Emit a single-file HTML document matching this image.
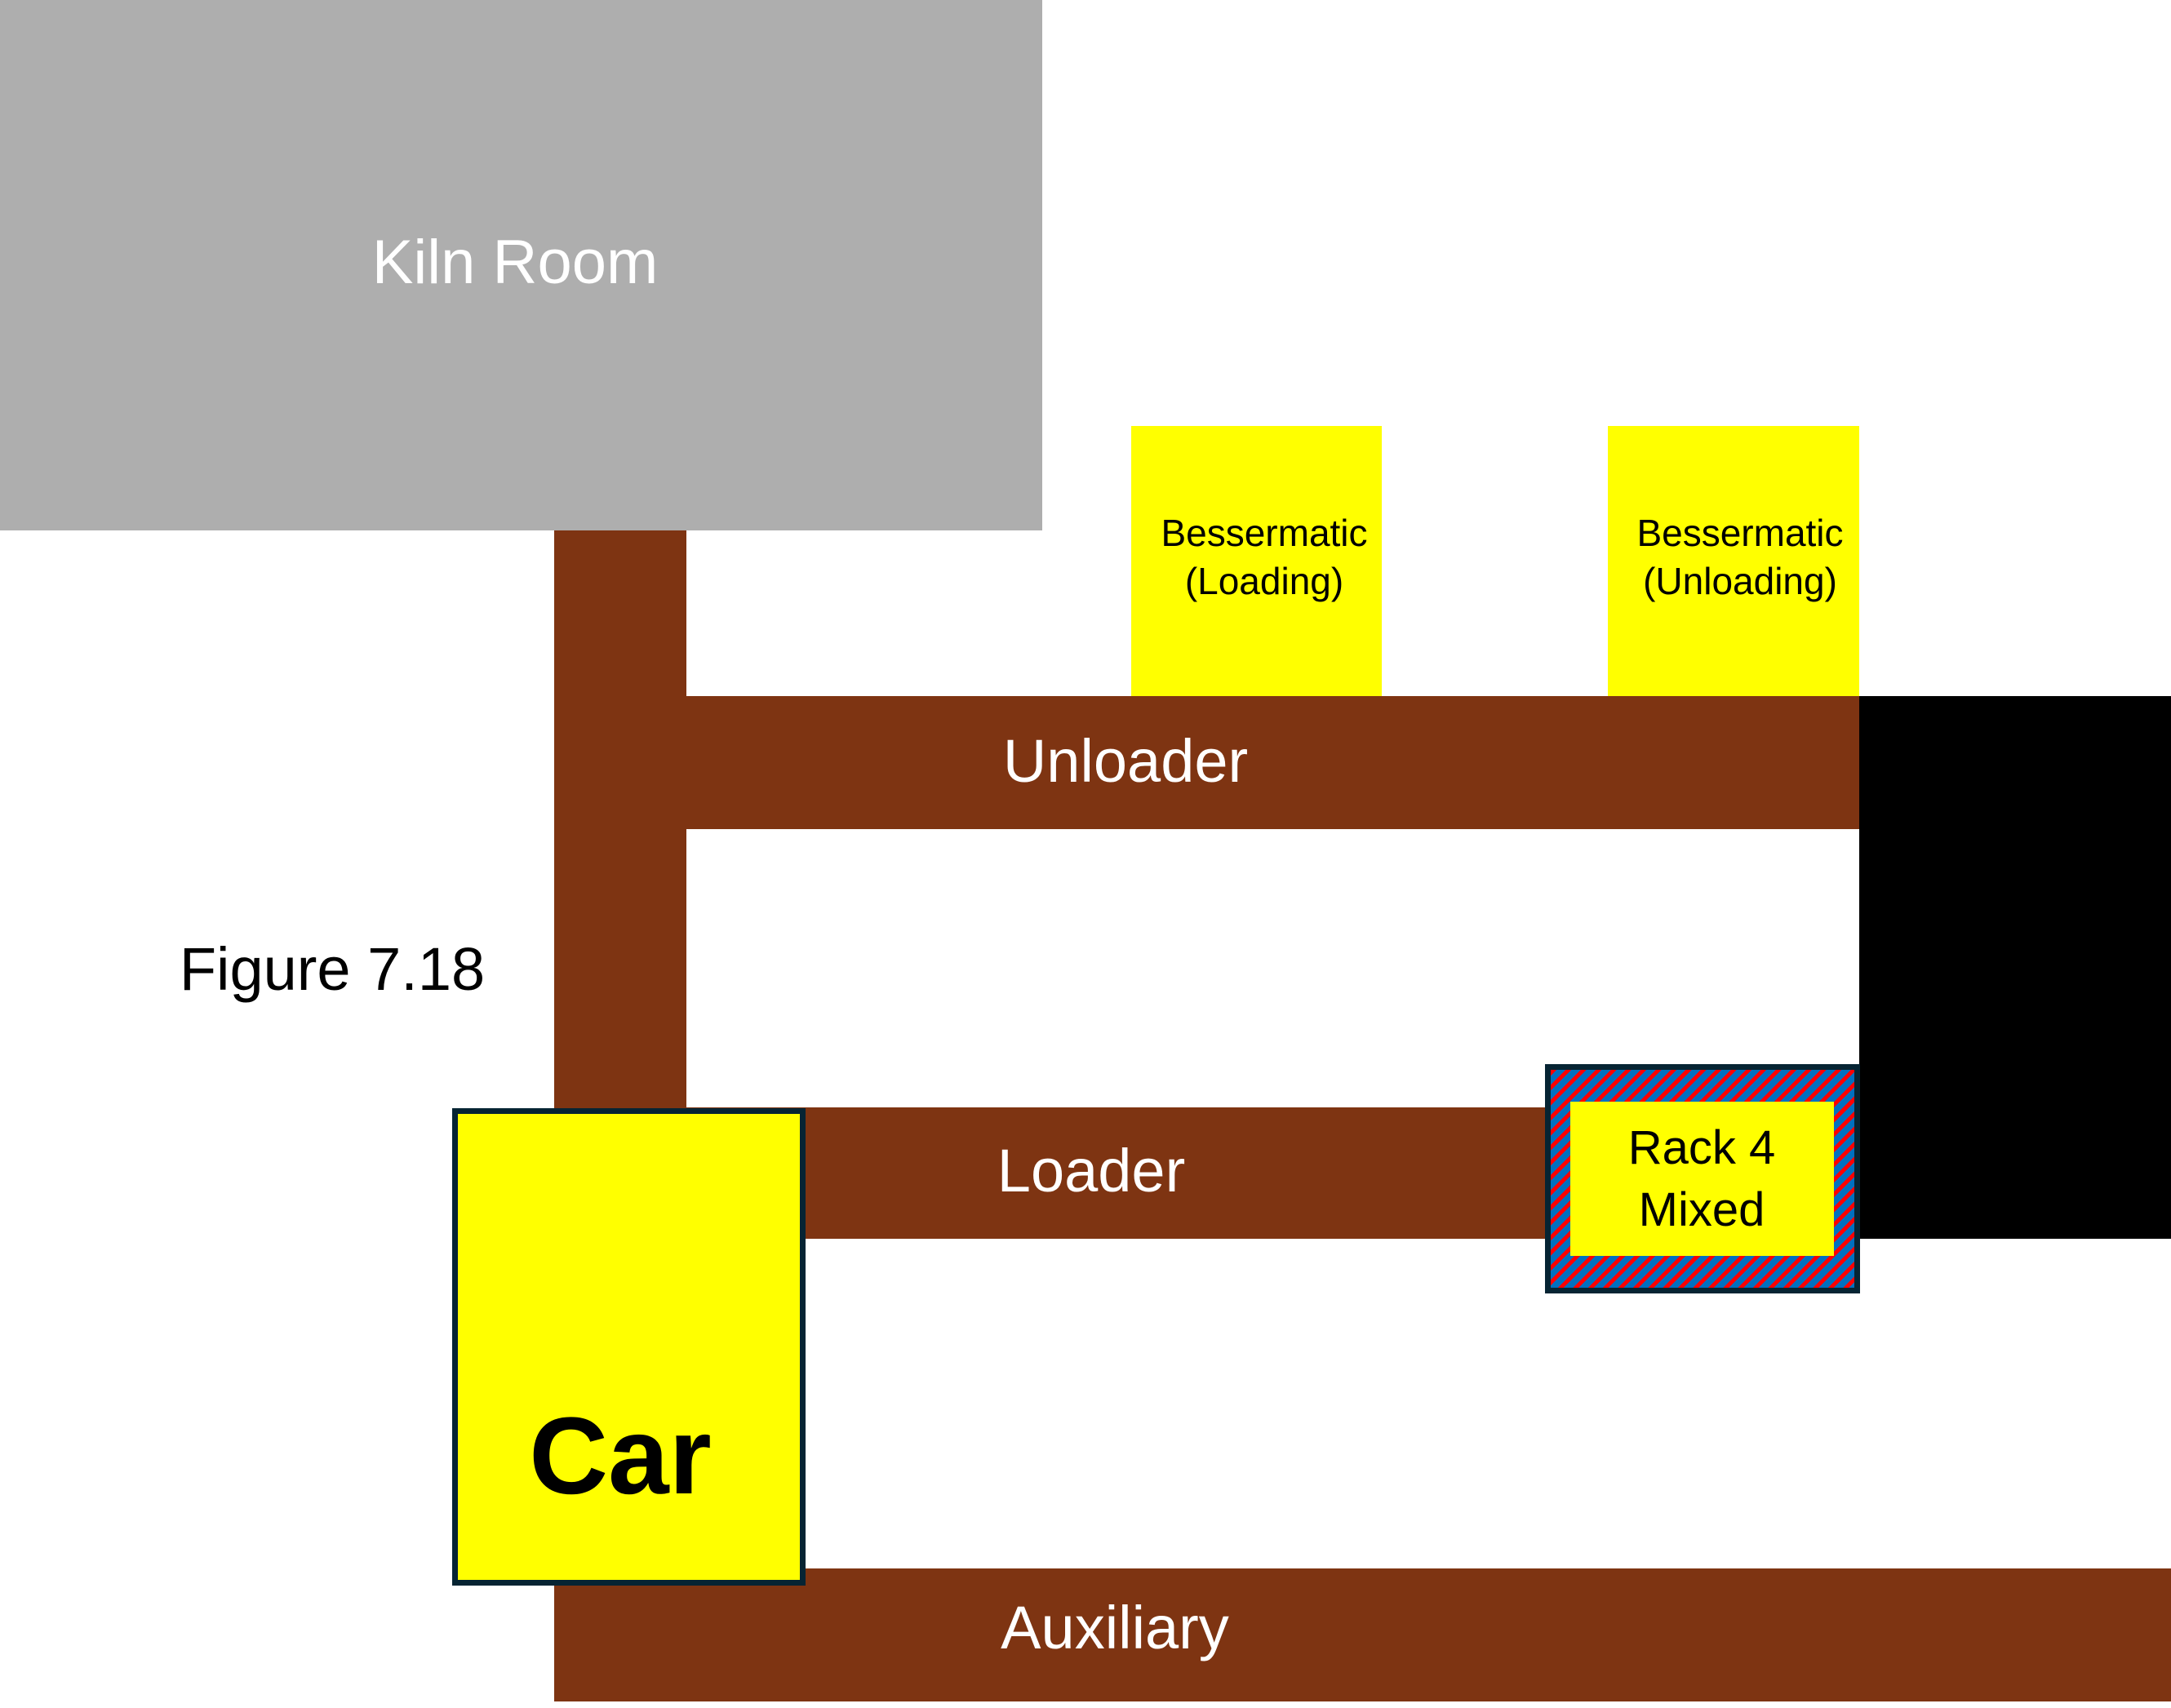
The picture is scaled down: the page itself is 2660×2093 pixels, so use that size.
<!DOCTYPE html>
<html><head><meta charset="utf-8"><style>
html,body{margin:0;padding:0;background:#fff;}
body{width:2660px;height:2093px;position:relative;overflow:hidden;font-family:"Liberation Sans",sans-serif;}
.a{position:absolute;box-sizing:border-box;}
.br{background:#7E3412;}
.t{position:absolute;white-space:nowrap;transform:translate(-50%,-50%);line-height:1;}
</style></head><body>
<div class="a" style="left:0;top:0;width:1277px;height:650px;background:#AEAEAE;"></div>
<div class="t" style="left:631px;top:322px;font-size:76px;color:#fff;">Kiln Room</div>

<div class="a br" style="left:679px;top:650px;width:162px;height:1435px;"></div>
<div class="a br" style="left:841px;top:853px;width:1437px;height:163px;"></div>
<div class="a br" style="left:841px;top:1357px;width:1060px;height:161px;"></div>
<div class="a br" style="left:679px;top:1922px;width:1981px;height:163px;"></div>
<div class="a" style="left:2278px;top:853px;width:382px;height:665px;background:#000;"></div>

<div class="a" style="left:1386px;top:522px;width:307px;height:331px;background:#FFFF00;"></div>
<div class="t" style="left:1549px;top:653px;font-size:46px;">Bessermatic</div>
<div class="t" style="left:1549px;top:712px;font-size:46px;">(Loading)</div>
<div class="a" style="left:1970px;top:522px;width:308px;height:331px;background:#FFFF00;"></div>
<div class="t" style="left:2132px;top:653px;font-size:46px;">Bessermatic</div>
<div class="t" style="left:2132px;top:712px;font-size:46px;">(Unloading)</div>

<div class="t" style="left:1379px;top:933px;font-size:74px;color:#fff;">Unloader</div>
<div class="t" style="left:1337px;top:1435px;font-size:74px;color:#fff;">Loader</div>
<div class="t" style="left:1366px;top:1995px;font-size:74px;color:#fff;">Auxiliary</div>
<div class="t" style="left:407px;top:1188px;font-size:74px;color:#000;">Figure 7.18</div>

<div class="a" style="left:554px;top:1358px;width:433px;height:585px;background:#FFFF00;border:7px solid #062433;"></div>
<div class="t" style="left:760px;top:1785px;font-size:134px;font-weight:bold;">Car</div>

<div class="a" style="left:1893px;top:1304px;width:386px;height:281px;border:7px solid #062433;background:repeating-linear-gradient(135deg,#FF0000 0 5px,#0070C0 5px 13px);"></div>
<div class="a" style="left:1924px;top:1350px;width:323px;height:189px;background:#FFFF00;"></div>
<div class="t" style="left:2085px;top:1407px;font-size:58px;">Rack 4</div>
<div class="t" style="left:2085px;top:1483px;font-size:58px;">Mixed</div>
</body></html>
